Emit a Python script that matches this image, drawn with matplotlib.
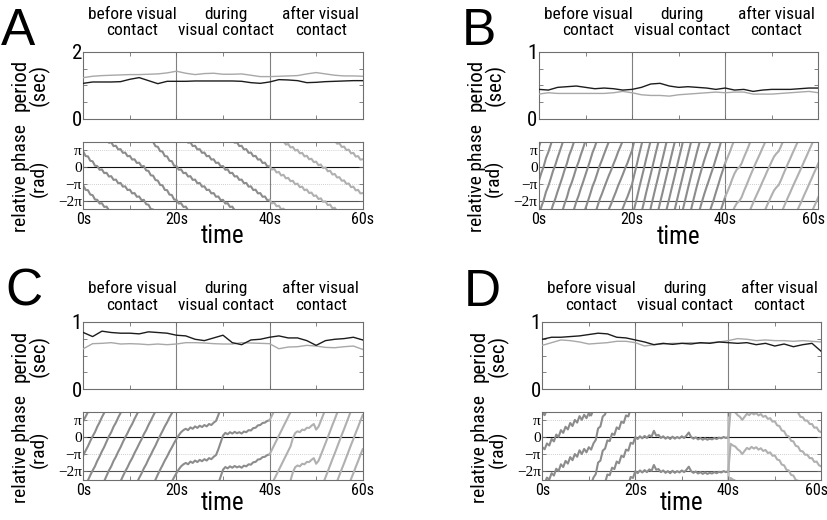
import numpy as np
import matplotlib
matplotlib.use("Agg")
import matplotlib.pyplot as plt
from matplotlib import font_manager
from matplotlib.transforms import blended_transform_factory, ScaledTranslation

installed = {f.name for f in font_manager.fontManager.ttflist}
NARROW = next((n for n in ["Liberation Sans Narrow", "Roboto Condensed", "Liberation Sans"]
               if n in installed), "DejaVu Sans")
SERIF = ["Liberation Serif", "DejaVu Serif"]
plt.rcParams["font.family"] = [NARROW, "DejaVu Sans"]

# ---------------- data ----------------
letters = ["A", "B", "C", "D"]
headers = ["before visual\ncontact", "during\nvisual contact", "after visual\ncontact"]
header_t = [10.5, 30.7, 51.0]
period_max = [2, 1, 1, 1]
xtick_labels = ["0s", "20s", "40s", "60s"]
phase_tick_labels = ["\u03c0", "0", "\u2212\u03c0", "\u22122\u03c0"]

period_t = np.arange(0, 61, 2)          # seconds
phase_t = np.arange(0, 60.01, 0.5)      # seconds

# period (sec), sampled every 2 s
period_a_black = [1.06, 1.10, 1.10, 1.10, 1.11, 1.18, 1.23, 1.14, 1.05, 1.12, 1.12, 1.12, 1.13, 1.13, 1.13, 1.13,
                  1.13, 1.12, 1.08, 1.06, 1.10, 1.17, 1.16, 1.14, 1.08, 1.09, 1.11, 1.12, 1.13, 1.14, 1.14]
period_a_grey = [1.23, 1.27, 1.29, 1.30, 1.31, 1.32, 1.32, 1.33, 1.34, 1.37, 1.42, 1.36, 1.32, 1.35, 1.36, 1.33,
                 1.33, 1.34, 1.30, 1.26, 1.26, 1.27, 1.28, 1.29, 1.34, 1.38, 1.34, 1.30, 1.28, 1.28, 1.27]
period_b_black = [0.44, 0.43, 0.47, 0.48, 0.49, 0.47, 0.45, 0.46, 0.45, 0.43, 0.44, 0.47, 0.52, 0.53, 0.49, 0.47,
                  0.48, 0.47, 0.46, 0.44, 0.46, 0.43, 0.44, 0.41, 0.43, 0.44, 0.44, 0.44, 0.45, 0.46, 0.46]
period_b_grey = [0.37, 0.39, 0.38, 0.38, 0.38, 0.38, 0.38, 0.38, 0.39, 0.41, 0.39, 0.36, 0.35, 0.35, 0.34, 0.36,
                 0.37, 0.38, 0.39, 0.40, 0.39, 0.40, 0.40, 0.37, 0.37, 0.37, 0.38, 0.39, 0.40, 0.41, 0.39]
period_c_black = [0.84, 0.78, 0.86, 0.84, 0.83, 0.83, 0.82, 0.85, 0.84, 0.83, 0.80, 0.79, 0.74, 0.72, 0.76, 0.80,
                  0.69, 0.66, 0.73, 0.74, 0.77, 0.79, 0.76, 0.76, 0.72, 0.65, 0.72, 0.74, 0.75, 0.77, 0.73]
period_c_grey = [0.60, 0.675, 0.68, 0.69, 0.67, 0.675, 0.67, 0.66, 0.67, 0.66, 0.67, 0.69, 0.69, 0.685, 0.675, 0.67,
                 0.67, 0.69, 0.685, 0.68, 0.675, 0.60, 0.625, 0.63, 0.65, 0.64, 0.62, 0.615, 0.63, 0.64, 0.59]
period_d_black = [0.74, 0.77, 0.77, 0.78, 0.79, 0.81, 0.83, 0.82, 0.77, 0.76, 0.73, 0.70, 0.66, 0.68, 0.665, 0.68,
                  0.67, 0.69, 0.68, 0.70, 0.69, 0.68, 0.69, 0.66, 0.68, 0.64, 0.67, 0.63, 0.66, 0.68, 0.56]
period_d_grey = [0.65, 0.69, 0.73, 0.72, 0.70, 0.67, 0.68, 0.69, 0.71, 0.71, 0.69, 0.64, 0.66, 0.67, 0.68, 0.68,
                 0.69, 0.68, 0.69, 0.70, 0.72, 0.75, 0.74, 0.72, 0.73, 0.72, 0.72, 0.71, 0.72, 0.71, 0.70]

# relative phase (unwrapped, in units of pi), sampled every 0.5 s
phase_a = [0.91, 0.65, 0.63, 0.37, 0.34, 0.08, 0.06, -0.16, -0.14, -0.36, -0.34, -0.56, -0.54, -0.76, -0.74,
           -0.96, -0.94, -1.16, -1.14, -1.36, -1.34, -1.56, -1.54, -1.76, -1.74, -1.96, -1.94, -2.20, -2.23,
           -2.49, -2.51, -2.77, -2.80, -3.06, -3.08, -3.35, -3.37, -3.63, -3.65, -3.92, -3.94,
           -4.16, -4.14, -4.36, -4.34, -4.56, -4.54, -4.76, -4.74, -4.96, -4.94, -5.16, -5.14, -5.36, -5.34,
           -5.56, -5.54, -5.76, -5.74, -5.96, -5.94, -6.16, -6.14, -6.36, -6.34, -6.56, -6.54, -6.76, -6.74,
           -6.96, -6.94, -7.16, -7.14, -7.36, -7.34, -7.56, -7.54, -7.76, -7.74, -7.96, -7.94,
           -8.15, -8.11, -8.32, -8.29, -8.50, -8.46, -8.67, -8.64, -8.84, -8.81, -9.02, -8.98, -9.19, -9.16,
           -9.37, -9.33, -9.54, -9.51, -9.71, -9.68, -9.89, -9.85, -10.06,
           -10.03, -10.25, -10.22, -10.44, -10.41, -10.62, -10.60, -10.81, -10.79, -11.00, -10.97, -11.19,
           -11.16, -11.38, -11.35, -11.56, -11.54]
phase_b = [-0.80, -0.35, 0.03, 0.53, 0.88, 1.30, 1.76, 2.12, 2.56, 2.96, 3.38, 3.83, 4.21, 4.71, 5.06, 5.48,
           5.94, 6.30, 6.74, 7.14, 7.56, 7.98, 8.40, 8.86, 9.20, 9.62, 10.06, 10.40, 10.78, 11.14, 11.50, 11.82,
           12.18, 12.52, 12.90, 13.22, 13.56, 13.92, 14.24, 14.62, 15.00,
           15.58, 16.14, 16.74, 17.30, 17.86, 18.46, 19.02, 19.58, 20.16, 20.74, 21.30, 21.88, 22.44, 23.02,
           23.60, 24.16, 24.74, 25.30, 25.88, 26.46, 27.02, 27.60, 28.16, 28.74, 29.30, 29.86, 30.42, 30.96,
           31.46, 31.94, 32.40, 32.82, 33.22, 33.64, 34.04, 34.50, 34.94, 35.40, 35.82, 36.24,
           36.56, 36.90, 37.28, 37.62, 37.86, 37.98, 38.20, 38.56, 38.88, 39.22, 39.56, 39.88, 40.20, 40.50,
           40.80, 41.12, 41.42, 41.74, 42.04, 42.34, 42.62, 42.80, 42.94, 43.24, 43.58, 43.90, 44.22, 44.52,
           44.84, 45.14, 45.44, 45.74, 46.04, 46.36, 46.66, 46.98, 47.28, 47.60, 47.90, 48.22]
phase_c = [-1.05, -0.78, -0.52, -0.22, 0.06, 0.30, 0.62, 0.88, 1.18, 1.44, 1.75, 2.06, 2.30, 2.62, 2.86, 3.16,
           3.42, 3.72, 4.00, 4.25, 4.54, 4.78, 5.08, 5.34, 5.62, 5.88, 6.18, 6.42, 6.72, 6.98, 7.26, 7.52,
           7.82, 8.10, 8.36, 8.64, 8.88, 9.16, 9.40, 9.66, 9.90,
           10.12, 10.30, 10.42, 10.50, 10.42, 10.58, 10.50, 10.64, 10.55, 10.68, 10.60, 10.72, 10.64, 10.78,
           10.72, 10.86, 10.96, 11.30, 11.70, 12.10, 12.26, 12.18, 12.30, 12.22, 12.32, 12.24, 12.30, 12.22,
           12.34, 12.30, 12.42, 12.40, 12.54, 12.56, 12.70, 12.72, 12.84, 12.86, 12.96, 13.00,
           13.27, 13.55, 13.82, 14.10, 14.37, 14.65, 14.92, 15.20, 15.47, 15.95, 16.25, 16.35, 16.30, 16.45,
           16.42, 16.56, 16.55, 16.68, 16.78, 16.45, 16.62, 16.95, 17.30, 17.65, 18.00, 18.36, 18.72, 19.06,
           19.42, 19.78, 20.14, 20.48, 20.84, 21.20, 21.56, 21.90, 22.26, 22.60, 22.96, 23.30]
phase_d = [-0.58, -0.70, -0.36, -0.48, -0.10, -0.24, 0.16, 0.02, 0.42, 0.26, 0.62, 0.46, 0.84, 0.66, 1.02,
           0.86, 1.24, 1.02, 1.32, 1.12, 1.42, 1.28, 1.64, 1.85, 2.52, 2.64, 3.22, 3.34, 3.82, 3.78, 4.22,
           4.14, 4.58, 4.48, 4.92, 4.84, 5.28, 5.22, 5.68, 5.62, 6.02,
           5.90, 6.06, 5.94, 6.08, 5.96, 6.12, 6.04, 6.38, 6.10, 6.14, 5.96, 6.06, 5.92, 6.02, 5.90, 6.04,
           5.92, 6.02, 5.94, 6.06, 5.96, 6.10, 6.28, 6.02, 5.92, 6.00, 5.88, 5.96, 5.86, 5.94, 5.86, 5.92,
           5.88, 5.96, 5.90, 5.98, 5.94, 6.02, 5.96, 6.02,
           7.62, 7.52, 7.46, 7.30, 7.20, 7.02, 7.20, 7.38, 7.30, 7.44, 7.34, 7.42, 7.28, 7.36, 7.20, 7.26,
           7.08, 7.12, 6.92, 6.94, 6.70, 6.66, 6.40, 6.36, 6.10, 6.06, 5.80, 5.76, 5.50, 5.46, 5.20, 5.18,
           4.98, 4.98, 4.78, 4.78, 4.56, 4.58, 4.36, 4.30]

period_black = [period_a_black, period_b_black, period_c_black, period_d_black]
period_grey = [period_a_grey, period_b_grey, period_c_grey, period_d_grey]
phases = [phase_a, phase_b, phase_c, phase_d]

# ---------------- layout (pixels) ----------------
W, H = 828, 520
# left, right, period top, period bottom, phase top, phase bottom
boxes = [(83.3, 362.7, 51.7, 119.0, 141.7, 209.3),
         (539.0, 818.3, 51.7, 119.0, 141.7, 209.3),
         (83.3, 362.7, 321.7, 389.3, 411.7, 480.0),
         (542.3, 821.3, 321.7, 389.3, 411.7, 480.0)]
letter_pos = [(1, 45), (462, 45), (5, 306), (464, 306)]
header_y = [22.5, 22.5, 297, 297]
time_y = [236, 237, 503, 503]

SPINE = "#6e6e6e"
PH_DARK = "#8c8c8c"
PH_LIGHT = "#b0b0b0"


def rect(l, r, t, b):
    return [l / W, 1 - b / H, (r - l) / W, (b - t) / H]


def style_axes(ax):
    for s in ax.spines.values():
        s.set_color(SPINE)
        s.set_linewidth(0.8)
    ax.tick_params(which="both", direction="in", top=True, right=True,
                   length=3, width=0.6, color=SPINE)
    ax.set_xlim(0, 60)
    for x in (20, 40):
        ax.axvline(x, color="#808080", lw=0.8, zorder=1)


fig = plt.figure(figsize=(W / 100, H / 100), dpi=100)

for i in range(4):
    l, r, pt, pb, ft, fb = boxes[i]
    axp = fig.add_axes(rect(l, r, pt, pb))
    axf = fig.add_axes(rect(l, r, ft, fb))

    # period panel
    style_axes(axp)
    ymax = period_max[i]
    axp.plot(period_t, period_grey[i], color="#a8a8a8", lw=1.0, zorder=3)
    axp.plot(period_t, period_black[i], color="#1c1c1c", lw=1.0, zorder=4)
    axp.set_ylim(0, ymax)
    axp.set_yticks([0, ymax])
    axp.set_yticklabels(["0", str(ymax)], fontsize=15)
    axp.set_yticks(np.linspace(0, ymax, 5)[1:-1], minor=True)
    axp.set_xticks(np.arange(0, 61, 10))
    axp.set_xticklabels([])
    axp.tick_params(axis="y", pad=1)

    # relative phase panel
    style_axes(axf)
    if i == 3:
        axf.lines[-1].set_color("#c4c4c4")
        axf.lines[-1].set_linewidth(2.0)
    axf.axhline(0, color="#111111", lw=0.8, zorder=1)
    axf.axhline(-2 * np.pi, color="#555555", lw=0.8, zorder=1)
    for yy in (np.pi, -np.pi):
        axf.axhline(yy, color="#c0c0c0", lw=0.6, ls=(0, (1, 1.5)), zorder=1)
    ph = np.asarray(phases[i])
    nmin = int(np.ceil((-2.5 - ph.max()) / 2))
    nmax = int(np.floor((1.5 - ph.min()) / 2))
    for n in range(nmin, nmax + 1):
        y = (ph + 2 * n) * np.pi
        axf.plot(phase_t[:81], y[:81], color=PH_DARK, lw=1.5, zorder=2)
        axf.plot(phase_t[80:], y[80:], color=PH_LIGHT, lw=1.5, zorder=2)
    axf.set_ylim(-2.5 * np.pi, 1.5 * np.pi)
    axf.set_yticks([np.pi, 0, -np.pi, -2 * np.pi])
    axf.set_yticklabels(phase_tick_labels, family=SERIF, fontsize=11)
    axf.set_xticks([0, 20, 40, 60])
    axf.set_xticks([10, 30, 50], minor=True)
    axf.set_xticklabels(xtick_labels, fontsize=11.5)
    axf.tick_params(axis="y", pad=1)
    axf.tick_params(axis="x", pad=2)
    if r > W - 20:
        last = axf.get_xticklabels()[-1]
        last.set_transform(last.get_transform() + ScaledTranslation(-0.05, 0, fig.dpi_scale_trans))

    # texts
    cy_p = 1 - (pt + pb) / 2 / H
    cy_f = 1 - (ft + fb + 6) / 2 / H
    fig.text((l - 53) / W, cy_p, "period\n(sec)", rotation=90, ha="center", va="center",
             fontsize=15, linespacing=0.95, multialignment="center")
    fig.text((l - 53) / W, cy_f, "relative phase\n(rad)", rotation=90, ha="center", va="center",
             fontsize=14, linespacing=0.95, multialignment="center")
    fig.text((l + r) / 2 / W, 1 - time_y[i] / H, "time", ha="center", va="center", fontsize=18)
    tr = blended_transform_factory(axp.transData, fig.transFigure)
    for tx, label in zip(header_t, headers):
        axp.text(tx, 1 - header_y[i] / H, label, transform=tr, ha="center", va="center",
                 fontsize=12.5, linespacing=1.15, multialignment="center")
    fig.text(letter_pos[i][0] / W, 1 - letter_pos[i][1] / H, letters[i], ha="left",
             va="baseline", fontsize=37, family=["Liberation Sans", "DejaVu Sans"])

fig.savefig("out.png", dpi=100)
